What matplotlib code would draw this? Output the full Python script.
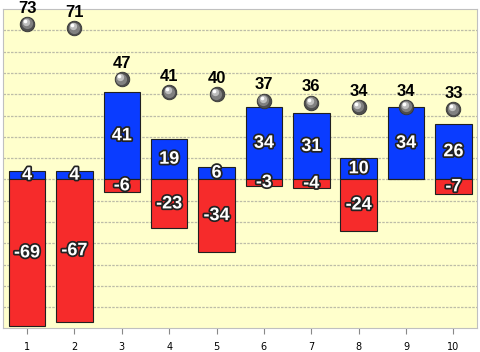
import matplotlib.pyplot as plt
import matplotlib.patheffects as pe

categories = ['1', '2', '3', '4', '5', '6', '7', '8', '9', '10']
positive = [4, 4, 41, 19, 6, 34, 31, 10, 34, 26]
negative = [-69, -67, -6, -23, -34, -3, -4, -24, 0, -7]
totals = [73, 71, 47, 41, 40, 37, 36, 34, 34, 33]

x = list(range(1, len(categories) + 1))
narrow = ['Liberation Sans Narrow', 'Liberation Sans', 'DejaVu Sans']

fig = plt.figure(figsize=(4.8, 3.52), dpi=100)
ax = fig.add_axes([0.007, 0.067, 0.987, 0.907])
ax.set_facecolor('#FFFFCC')

ax.set_xlim(0.5, 10.5)
ax.set_ylim(-70, 80)
ax.set_yticks(range(-60, 80, 10))
ax.yaxis.grid(True, color='#BDBDA8', linestyle=(0, (2, 1)), linewidth=0.9)
ax.set_axisbelow(True)

ax.bar(x, positive, width=0.77, color='#0A3CFF', edgecolor='#202020', linewidth=0.8)
ax.bar(x, negative, width=0.77, color='#F62B2B', edgecolor='#202020', linewidth=0.8)

outline = [pe.withStroke(linewidth=2.5, foreground='#222222')]
for xi, p, n in zip(x, positive, negative):
    if p != 0:
        ax.text(xi, p / 2, str(p), ha='center', va='center', color='white', family=narrow,
                fontsize=13, fontweight='bold', path_effects=outline, zorder=5)
    if n != 0:
        ax.text(xi, n / 2, str(n), ha='center', va='center', color='white', family=narrow,
                fontsize=13, fontweight='bold', path_effects=outline, zorder=5)

# shaded spheres
ax.scatter(x, totals, s=110, color='#4E4E4E', edgecolor='#333333', linewidth=0.6, zorder=6)
ax.scatter([xi - 0.01 for xi in x], [t + 0.3 for t in totals], s=65, color='#808080', linewidth=0, zorder=7)
ax.scatter([xi - 0.03 for xi in x], [t + 0.9 for t in totals], s=28, color='#BEBEBE', linewidth=0, zorder=8)
ax.scatter([xi - 0.05 for xi in x], [t + 1.4 for t in totals], s=7, color='white', linewidth=0, zorder=9)

for xi, t in zip(x, totals):
    ax.annotate(str(t), (xi, t), xytext=(0, 11.5), textcoords='offset points', family=narrow,
                ha='center', va='center', fontsize=12, fontweight='bold', color='black', zorder=10)

ax.set_xticks(x)
ax.set_xticklabels(categories, fontsize=7)
ax.tick_params(axis='x', length=4, color='#888888', pad=6)
ax.tick_params(axis='y', length=0, labelleft=False)
for s in ax.spines.values():
    s.set_color('#C0C0C0')
    s.set_linewidth(0.8)

plt.savefig('out.png', dpi=100)
